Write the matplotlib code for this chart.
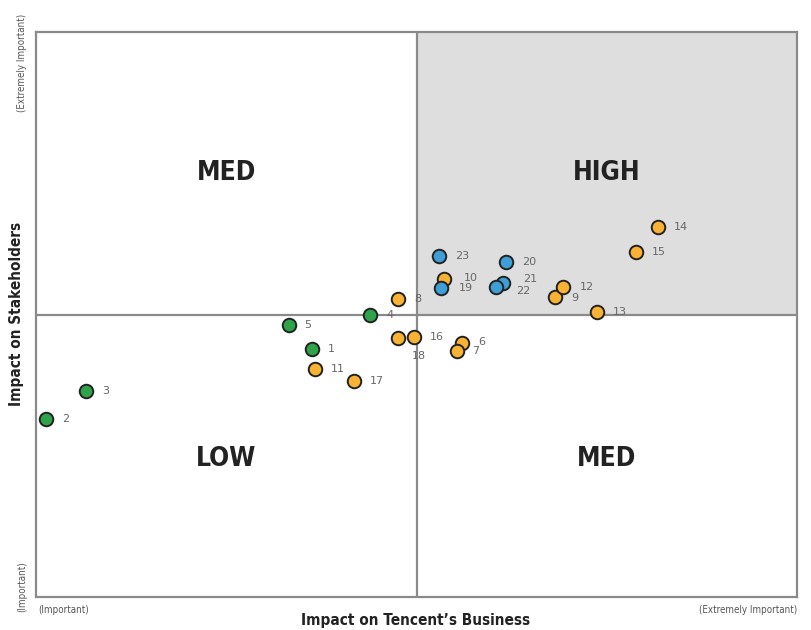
import matplotlib
matplotlib.use("Agg")
import matplotlib.pyplot as plt
from matplotlib.patches import Rectangle

# Data (0-10 scale on both axes, midpoint 5)
ids = [1, 2, 3, 4, 5, 6, 7, 8, 9, 10, 11, 12, 13, 14, 15, 16, 17, 18, 19, 20, 21, 22, 23]
x_vals = [3.63, 0.13, 0.66, 4.39, 3.32, 5.60, 5.53, 4.76, 6.82, 5.36, 3.67, 6.93, 7.37, 8.17, 7.88, 4.97, 4.18, 4.76, 5.32, 6.18, 6.14, 6.05, 5.30]
y_vals = [4.39, 3.15, 3.65, 5.00, 4.81, 4.50, 4.35, 5.27, 5.31, 5.63, 4.04, 5.49, 5.04, 6.55, 6.11, 4.60, 3.83, 4.58, 5.47, 5.93, 5.56, 5.49, 6.04]
groups = ["g", "g", "g", "g", "g", "o", "o", "o", "o", "o", "o", "o", "o", "o", "o", "o", "o", "o", "b", "b", "b", "b", "b"]
# label offsets (pixels)
label_dx = [16, 16, 16, 16, 16, 16, 15, 16, 16, 20, 16, 16, 16, 16, 16, 16, 16, 14, 18, 16, 20, 20, 16]
label_dy = [0, 0, 0, 0, 0, 1, 0, 0, -1, 1, 0, 0, 0, 0, 0, 0, 0, -18, 0, 0, 4, -4, 0]

quad_labels = ["MED", "HIGH", "LOW", "MED"]
quad_pos = [(2.5, 7.5), (7.5, 7.5), (2.5, 2.45), (7.5, 2.45)]

colors = {"g": "#2fa34a", "o": "#f9b233", "b": "#3e9fd6"}

fig = plt.figure(figsize=(8.12, 6.30), dpi=100)
ax = fig.add_axes([36/812, 1-597/630, (797-36)/812, (597-32)/630])
ax.set_xlim(0, 10)
ax.set_ylim(0, 10)
ax.set_xticks([])
ax.set_yticks([])
for s in ax.spines.values():
    s.set_color("#8a8a8a")
    s.set_linewidth(1.6)

ax.add_patch(Rectangle((5, 5), 5, 5, facecolor="#dedede", edgecolor="none", zorder=0))
ax.axvline(5, color="#8a8a8a", lw=1.6, zorder=1)
ax.axhline(5, color="#8a8a8a", lw=1.6, zorder=1)

cond = dict(family="DejaVu Sans", stretch="condensed")
for lab, (qx, qy) in zip(quad_labels, quad_pos):
    ax.text(qx, qy, lab, ha="center", va="center", fontsize=19, fontweight="bold",
            color="#222222", **cond)

for i, x, y, g, dx, dy in zip(ids, x_vals, y_vals, groups, label_dx, label_dy):
    ax.scatter([x], [y], s=95, color=colors[g], edgecolor="#222222", linewidth=1.4, zorder=3)
    ax.annotate(str(i), (x, y), xytext=(dx, dy), textcoords="offset pixels",
                ha="left", va="center", fontsize=8, color="#666666", zorder=4)

fig.text(416/812, 1-621/630, "Impact on Tencent\u2019s Business", ha="center", va="center",
         fontsize=11, fontweight="bold", color="#222222", **cond)
fig.text(17/812, 1-314/630, "Impact on Stakeholders", ha="center", va="center", rotation=90,
         fontsize=11, fontweight="bold", color="#222222", **cond)
fig.text(38/812, 1-610/630, "(Important)", ha="left", va="center", fontsize=7,
         color="#555555", **cond)
fig.text(797/812, 1-610/630, "(Extremely Important)", ha="right", va="center", fontsize=7,
         color="#555555", **cond)
fig.text(22/812, 1-14/630, "(Extremely Important)", ha="center", va="top", rotation=90,
         fontsize=7, color="#555555", **cond)
fig.text(22/812, 1-612/630, "(Important)", ha="center", va="bottom", rotation=90,
         fontsize=7, color="#555555", **cond)

fig.savefig("out.png", dpi=100)
